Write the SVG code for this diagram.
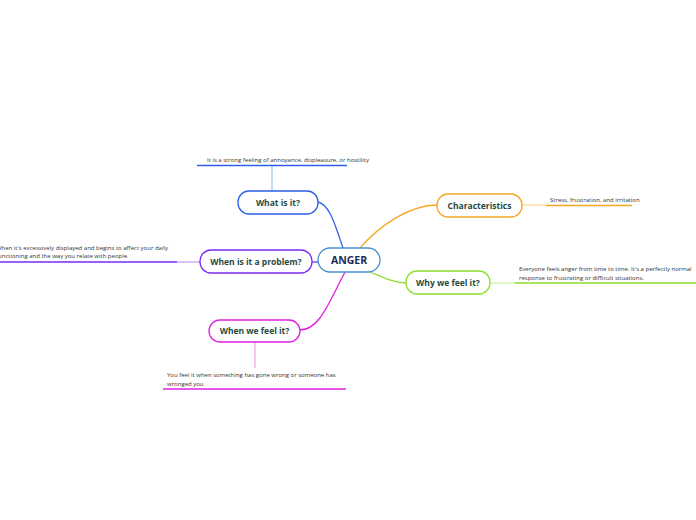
<svg xmlns="http://www.w3.org/2000/svg" width="696" height="520" viewBox="0 0 696 520">
<style>
.n{fill:#fff;stroke-width:1.3}
.t{font-family:"Open Sans",sans-serif;font-weight:bold;font-size:8.5px;fill:#1f4a3c;text-anchor:middle}
.l{font-family:"Open Sans",sans-serif;font-size:6px;fill:#333}
.c{fill:none;stroke-width:1.3}
</style>
<rect width="696" height="520" fill="#fff"/>
<g id="connectors">
<path class="c" stroke="#2c5fe8" d="M343,248 C335,225 330,205 318,202"/>
<path class="c" stroke="#f5a623" d="M360,248 C380,225 410,205 437,205"/>
<path class="c" stroke="#7b2cf0" d="M318,262 L312,262"/>
<path class="c" stroke="#8be02c" d="M370,272 C385,278 395,283 406,283"/>
<path class="c" stroke="#e020e0" d="M345,272 C330,300 320,330 300,330"/>
<path class="c" stroke="#a8c4f5" d="M272,191 V165"/>
<path class="c" stroke="#fbd9a0" d="M522,205 H546"/>
<path class="c" stroke="#c3a5f5" d="M200,262 H177"/>
<path class="c" stroke="#cdf2a8" d="M490,283 H515"/>
<path class="c" stroke="#f2a8f2" d="M255,342 V368"/>
</g>
<g id="anger"><rect class="n" x="318" y="248" width="62" height="24" rx="12" stroke="#4a90d0"/><text x="349" y="264" class="t" style="font-size:10.5px;fill:#1a2a5a">ANGER</text></g>
<g id="what"><rect class="n" x="238" y="191" width="80" height="23" rx="11" stroke="#2c5fe8"/><text x="278" y="206" class="t">What is it?</text></g>
<g id="what-leaf"><text x="288" y="162" class="l" text-anchor="middle">It is a strong feeling of annoyance, displeasure, or hostility</text><line x1="197" y1="165.5" x2="347" y2="165.5" stroke="#2c5fe8" stroke-width="1.5"/></g>
<g id="char"><rect class="n" x="437" y="194" width="85" height="23" rx="11" stroke="#f5a623"/><text x="479.5" y="209" class="t">Characteristics</text></g>
<g id="char-leaf"><text x="550" y="202" class="l">Stress, frustration, and irritation</text><line x1="546" y1="205.5" x2="632" y2="205.5" stroke="#f5a623" stroke-width="1.5"/></g>
<g id="problem"><rect class="n" x="200" y="250" width="112" height="23" rx="11" stroke="#7b2cf0"/><text x="256" y="265" class="t">When is it a problem?</text></g>
<g id="problem-leaf"><text class="l"><tspan x="-4" y="250">When it's excessively displayed and begins to affect your daily</tspan><tspan x="-4" y="258">functioning and the way you relate with people.</tspan></text><line x1="0" y1="262" x2="177" y2="262" stroke="#7b2cf0" stroke-width="1.5"/></g>
<g id="why"><rect class="n" x="406" y="271" width="84" height="23" rx="11" stroke="#8be02c"/><text x="448" y="286" class="t">Why we feel it?</text></g>
<g id="why-leaf"><text class="l"><tspan x="519" y="271">Everyone feels anger from time to time. It's a perfectly normal</tspan><tspan x="519" y="280">response to frustrating or difficult situations.</tspan></text><line x1="515" y1="283" x2="696" y2="283" stroke="#8be02c" stroke-width="1.5"/></g>
<g id="when"><rect class="n" x="209" y="320" width="91" height="22" rx="11" stroke="#e020e0"/><text x="254.5" y="334" class="t">When we feel it?</text></g>
<g id="when-leaf"><text class="l"><tspan x="167" y="377">You feel it when something has gone wrong or someone has</tspan><tspan x="167" y="386">wronged you</tspan></text><line x1="163" y1="389" x2="346" y2="389" stroke="#e020e0" stroke-width="1.5"/></g>
</svg>
